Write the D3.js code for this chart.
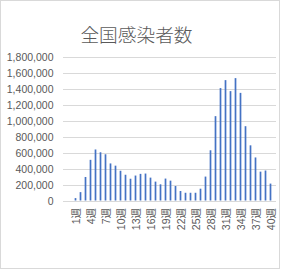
<!DOCTYPE html>
<html>
<head>
<meta charset="utf-8">
<script src="https://cdn.jsdelivr.net/npm/d3@7"></script>
<style>
  body { margin: 0; background: #fff; }
  svg { display: block; }
</style>
</head>
<body>
<div id="chart"></div>
<script>
// weekly counts
var weeks = d3.range(1, 41).map(function(n) { return n + "週"; });
var cases = [
    30000, 105000, 295000, 510000, 640000, 605000, 580000, 465000, 437000, 373000,
    323000, 273000, 313000, 334000, 338000, 287000, 237000, 203000, 275000, 249000,
    182000, 119000, 97000, 97000, 97000, 148000, 300000, 630000, 1058000, 1410000,
    1510000, 1372000, 1535000, 1350000, 932000, 692000, 540000, 362000, 376000, 212000
];
var yTicks = [0, 200000, 400000, 600000, 800000, 1000000, 1200000, 1400000, 1600000, 1800000];
var xTickLabels = weeks.filter(function(d, i) { return i % 3 === 0; });
var title = "全国感染者数";

var w = 282;
var h = 270;

var svg = d3.select("#chart").append("svg").attr("width", w).attr("height", h);

// chart frame
svg.append("rect")
    .attr("x", 0.5).attr("y", 0.5)
    .attr("width", 279).attr("height", 268)
    .attr("fill", "#fff")
    .attr("stroke", "#d9d9d9");

var x = d3.scaleBand().domain(weeks).range([73, 273]).paddingInner(0.66).paddingOuter(0.33);
var y = d3.scaleLinear().domain([0, 1800000]).range([200.5, 57]);

// gridlines
svg.append("g").selectAll("line")
    .data(yTicks)
    .enter()
    .append("line")
    .attr("x1", 63).attr("x2", 276)
    .attr("y1", function(d) { return Math.round(y(d)) + 0.5; })
    .attr("y2", function(d) { return Math.round(y(d)) + 0.5; })
    .attr("stroke", "#d9d9d9")
    .attr("stroke-width", 1);

// y labels
var fmt = d3.format(",");
svg.append("g").selectAll("text")
    .data(yTicks)
    .enter()
    .append("text")
    .text(function(d) { return fmt(d); })
    .attr("x", 53.5)
    .attr("y", function(d) { return y(d); })
    .attr("text-anchor", "end")
    .attr("dominant-baseline", "central")
    .style("font-family", "'Liberation Sans', Arial, sans-serif")
    .style("font-size", "10.5px")
    .style("fill", "#595959");

// bars
svg.append("g").selectAll("rect")
    .data(cases)
    .enter()
    .append("rect")
    .attr("x", function(d, i) { return x(weeks[i]); })
    .attr("y", function(d) { return y(d); })
    .attr("width", x.bandwidth())
    .attr("height", function(d) { return y(0) - y(d); })
    .attr("fill", "#4472c4");

// x labels (every third week), rotated
svg.append("g").selectAll("text")
    .data(xTickLabels)
    .enter()
    .append("text")
    .text(function(d) { return d; })
    .attr("transform", function(d) {
        return "translate(" + (x(d) + x.bandwidth() / 2) + ",208) rotate(-90)";
    })
    .attr("text-anchor", "end")
    .attr("dominant-baseline", "central")
    .style("font-family", "'Liberation Sans', 'Noto Sans CJK JP', sans-serif")
    .style("font-size", "10.5px")
    .style("fill", "#595959");

// title
svg.append("text")
    .text(title)
    .attr("x", 136.5)
    .attr("y", 33)
    .attr("text-anchor", "middle")
    .attr("dominant-baseline", "central")
    .style("font-family", "'Noto Sans CJK JP', sans-serif")
    .style("font-size", "18.7px")
    .style("font-weight", 300)
    .style("fill", "#595959");
</script>
</body>
</html>
